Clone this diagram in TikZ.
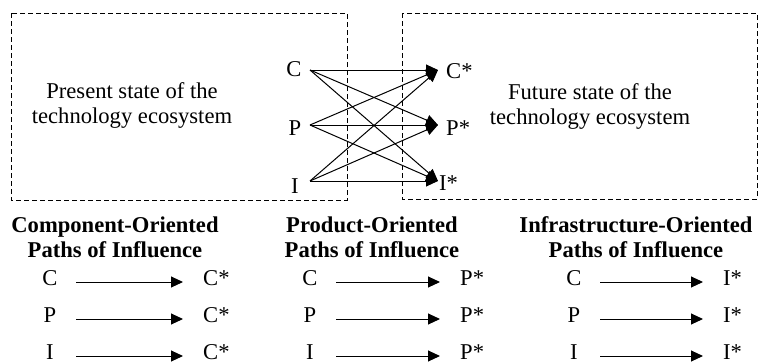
\documentclass[tikz,border=0pt]{standalone}
\usepackage{fontspec}
\setmainfont{Liberation Serif}
\usetikzlibrary{arrows.meta}
\begin{document}
\begin{tikzpicture}[x=1pt,y=-1pt,
  every node/.style={font=\fontsize{22.6}{25}\selectfont, inner sep=0pt},
  region/.style={draw, line width=0.9pt, dash pattern=on 5pt off 3pt},
  link/.style={line width=1pt, -{Triangle[length=12pt,width=11pt]}},
  statetext/.style={align=center, anchor=base},
  header/.style={align=center, anchor=base, font=\fontsize{22.6}{25}\selectfont\bfseries},
  pathend/.style={text height=7pt, text depth=0pt}
]
\useasboundingbox (0,0) rectangle (768,362);

% the two states of the ecosystem (base anchor = baseline of the last line)
\draw[region] (11,13) rectangle (347,200);
\draw[region] (402,13) rectangle (757,199);
\node[statetext] (present) at (132,123) {Present state of the\\technology ecosystem};
\node[statetext] (future) at (590,124) {Future state of the\\technology ecosystem};

% source and target elements
\node[anchor=base] (lc) at (294,76) {C};
\node[anchor=base] (lp) at (295,135) {P};
\node[anchor=base] (li) at (295,193) {I};
\node[anchor=base west] (rc) at (446,78) {C*};
\node[anchor=base west] (rp) at (446,135) {P*};
\node[anchor=base west] (ri) at (439,190) {I*};

\coordinate (sC) at (310,70);
\coordinate (sP) at (310,125);
\coordinate (sI) at (310,181);
\coordinate (tC) at (438,70);
\coordinate (tP) at (438,125);
\coordinate (tI) at (438,181);

\foreach \s in {C,P,I}
  \foreach \t in {C,P,I}
    \draw[link] (s\s) -- (t\t);

% the three families of paths of influence
\foreach \hx/\lx/\rx/\tgt/\nm/\ttl in {115/50/203/C*/a/Component, 372/310/460/P*/b/Product, 636/574/723/I*/c/Infrastructure} {
  \node[header] (\nm h) at (\hx,257) {\ttl-Oriented\\Paths of Influence};
  \foreach \src [count=\k] in {C,P,I} {
    \pgfmathsetmacro\yy{245+37*\k}
    \node[pathend, minimum width=52pt] (\nm s\k) at (\lx,\yy) {\src};
    \node[pathend, anchor=west] (\nm t\k) at (\rx,\yy) {\tgt};
    \draw[link, shorten >=20pt] (\nm s\k.east) -- (\nm t\k.west);
  }
}
\end{tikzpicture}
\end{document}
